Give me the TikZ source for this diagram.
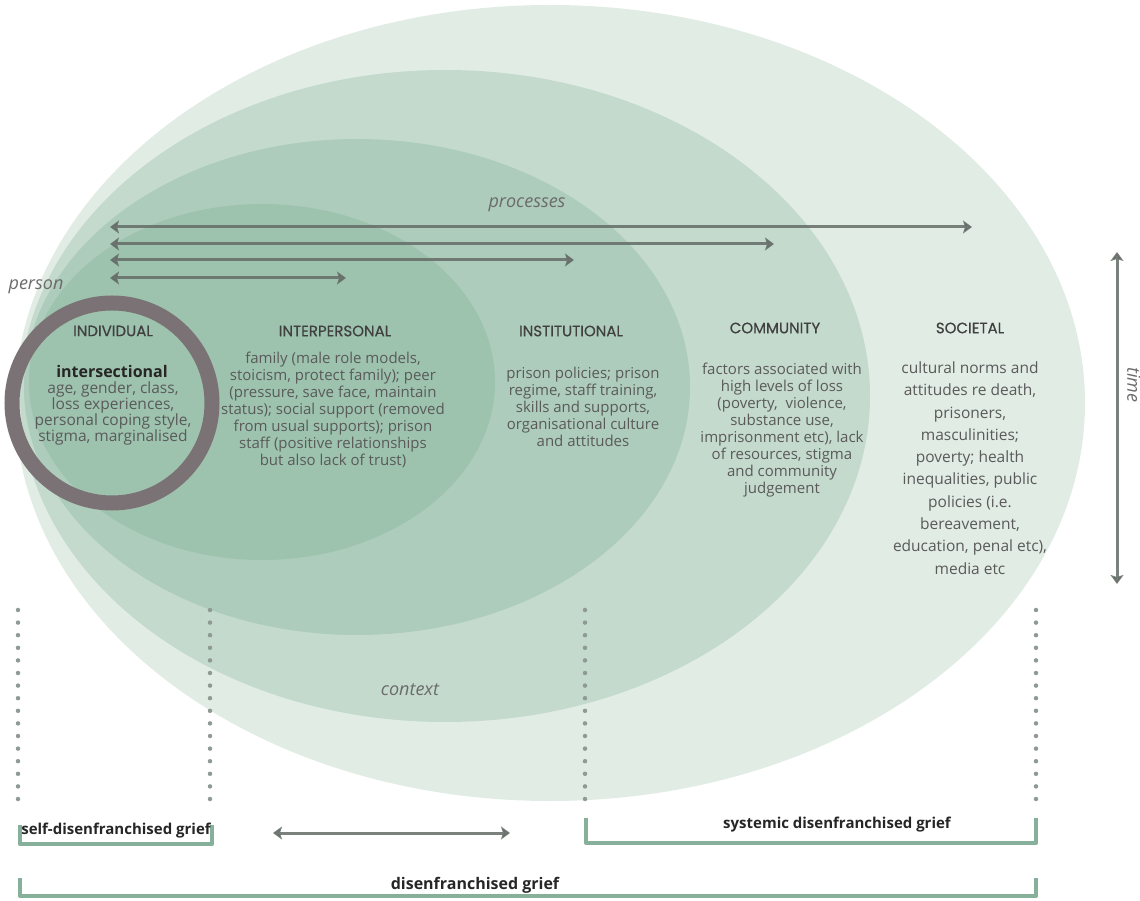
\documentclass[tikz,border=0pt]{standalone}
\usepackage{fontspec}
\setmainfont{Open Sans}
\newfontfamily\headfont[FakeBold=0.6]{Poppins}
\usetikzlibrary{arrows.meta}

\definecolor{societal}{HTML}{E1ECE5}
\definecolor{community}{HTML}{C4DACD}
\definecolor{institutional}{HTML}{ADCCBB}
\definecolor{interpersonal}{HTML}{9DC3AE}
\definecolor{ringgray}{HTML}{7B7275}
\definecolor{arrowgray}{HTML}{646C67}
\definecolor{textgray}{HTML}{5A5A5A}
\definecolor{griefgreen}{HTML}{86B09A}
\definecolor{dotgray}{HTML}{8E9A93}

\tikzset{
  heading/.style={font=\headfont\fontsize{15}{17}\selectfont, text=black!75},
  body/.style={font=\fontsize{15}{17}\selectfont, text=textgray, align=center, inner sep=0pt},
  tag/.style={font=\itshape\fontsize{18}{20}\selectfont, text=textgray!90},
  flow/.style={arrowgray, opacity=0.85, line width=3pt, {Stealth[length=9pt,width=13pt,inset=2pt]}-{Stealth[length=9pt,width=13pt,inset=2pt]}},
  guideline/.style={dotgray, line width=4.5pt, line cap=round, dash pattern=on 0pt off 12.6pt},
  griefbar/.style={griefgreen, line width=4pt, line join=round},
  grieflabel/.style={font=\bfseries\fontsize{15}{17}\selectfont, text=black!85, inner sep=0pt}
}

\newcommand{\layer}[5]{ \fill[#5] ( #1 , #2 ) ellipse [x radius=#3 pt, y radius=#4 pt]; }
\newcommand{\guide}[1]{ \draw[guideline] ( #1 , 290 ) -- ( #1 , 100 ); }
\newcommand{\griefbracket}[4]{ \draw[griefbar] ( #1 , #2 ) -- ( #1 , #3 ) -- ( #4 , #3 ) -- ( #4 , #2 ); }

\begin{document}
\begin{tikzpicture}[x=1pt,y=1pt]
    \useasboundingbox (0,0) rectangle (1140,900);
    % nested levels
    \layer{550}{497}{535}{398}{societal}
    \layer{445}{504}{425}{326}{community}
    \layer{357}{513}{333}{248}{institutional}
    \layer{262}{518}{233}{178}{interpersonal}

    % processes
    \node[tag] (processes) at (527,695) {processes};
    \coordinate (socl) at (110,673); \coordinate (socr) at (972,673);
    \coordinate (coml) at (110,656); \coordinate (comr) at (774,656);
    \coordinate (insl) at (110,640); \coordinate (insr) at (574,640);
    \coordinate (intl) at (110,622); \coordinate (intr) at (346,622);
    \draw[flow] (socl) -- (socr);
    \draw[flow] (coml) -- (comr);
    \draw[flow] (insl) -- (insr);
    \draw[flow] (intl) -- (intr);
    \node[tag] (person) at (36,613) {person};

    % headings
    \node[heading] (indhead) at (113,569) {INDIVIDUAL};
    \node[heading] (inthead) at (335,569) {INTERPERSONAL};
    \node[heading] (inshead) at (571,569) {INSTITUTIONAL};
    \node[heading] (comhead) at (775,572) {COMMUNITY};
    \node[heading] (sochead) at (970,572) {SOCIETAL};

    % individual
    \node[font=\bfseries\fontsize{16}{18}\selectfont, text=black!85] (indkey) at (112,528) {intersectional};
    \node[body, font=\fontsize{15.5}{16}\selectfont] (indtext) at (113,487) {age, gender, class,\\loss experiences,\\personal coping style,\\stigma, marginalised};
    % interpersonal
    \node[body] (inttext) at (333,490) {family (male role models,\\stoicism, protect family); peer\\(pressure, save face, maintain\\status); social support (removed\\from usual supports); prison\\staff (positive relationships\\but also lack of trust)};
    % institutional
    \node[body] (instext) at (583,493) {prison policies; prison\\regime, staff training,\\skills and supports,\\organisational culture\\and attitudes};
    % community
    \node[body] (comtext) at (782,470) {factors associated with\\high levels of loss\\(poverty,\ \ violence,\\substance use,\\imprisonment etc), lack\\of resources, stigma\\and community\\judgement};
    % societal
    \node[body, font=\fontsize{15.5}{22.3}\selectfont] (soctext) at (970,432) {cultural norms and\\attitudes re death,\\prisoners,\\masculinities;\\poverty; health\\inequalities, public\\policies (i.e.\\bereavement,\\education, penal etc),\\media etc};

    % person ring
    \node[draw=ringgray, line width=15pt, circle, inner sep=0pt, minimum size=200pt] (individual) at (112,497) {};

    \node[tag] (context) at (410,210) {context};

    % time
    \coordinate (timetop) at (1117,648);
    \coordinate (timebot) at (1117,316);
    \draw[flow] (timetop) -- (timebot);
    \node[tag, rotate=-90] (time) at (1134,515) {time};

    % guides
    \guide{18}
    \guide{210}
    \guide{585}
    \guide{1036}

    % grief brackets
    \griefbracket{20}{75}{56}{212}
    \node[grieflabel] (selfgrief) at (116,69) {self-disenfranchised grief};
    \griefbracket{586}{82}{57}{1036}
    \node[grieflabel] (sysgrief) at (837,75) {systemic disenfranchised grief};
    \griefbracket{20}{22}{4}{1036}
    \node[grieflabel, font=\bfseries\fontsize{16}{18}\selectfont] (grief) at (475,15) {disenfranchised grief};
    \coordinate (spanl) at (273,67);
    \coordinate (spanr) at (510,67);
    \draw[flow] (spanl) -- (spanr);
\end{tikzpicture}
\end{document}
